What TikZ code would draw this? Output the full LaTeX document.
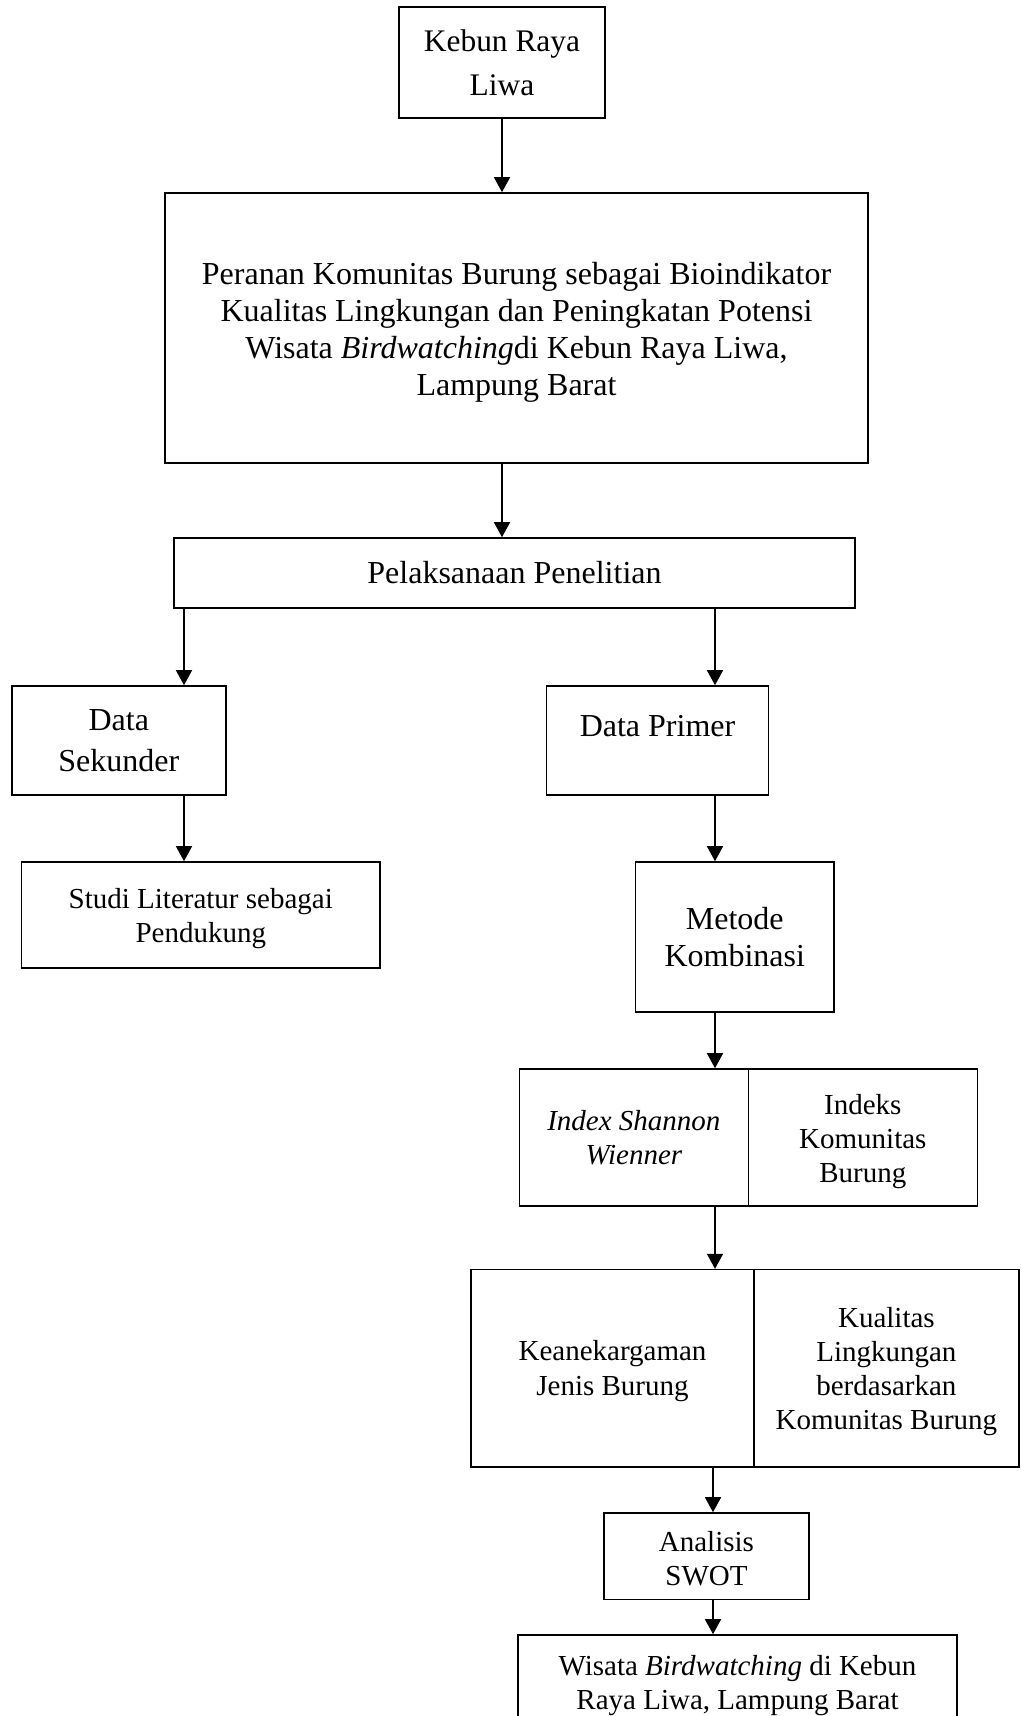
\documentclass[tikz,border=0pt]{standalone}
\usepackage{fontspec}
\setmainfont{Liberation Serif}
\usetikzlibrary{arrows.meta,calc}
\newcommand\topstr[1]{\rule{0pt}{#1pt}}
\tikzset{
  box/.style={draw, line width=1.6pt, inner sep=0pt, align=center},
  arr/.style={line width=1.5pt, -{Triangle[width=16pt,length=15pt]}},
  fA/.style={font=\fontsize{32}{37}\selectfont},
  fB/.style={font=\fontsize{29}{34}\selectfont},
}
\begin{document}
\begin{tikzpicture}[x=1pt,y=-1pt]
\useasboundingbox (0,0) rectangle (1020,1716);
\clip (0,0) rectangle (1020,1716);
\fill[white] (0,0) rectangle (1020,1716);

\node[box, font=\fontsize{31.4}{44}\selectfont, minimum width=206pt, minimum height=111pt] (kebun) at (502,62.5) {Kebun Raya\\Liwa};
\node[box, font=\fontsize{32}{37.2}\selectfont, minimum width=703pt, minimum height=270pt] (peranan) at (516.5,328)
  {\topstr{30.7}Peranan Komunitas Burung sebagai Bioindikator\\Kualitas Lingkungan dan Peningkatan Potensi\\Wisata \textit{Birdwatching}di Kebun Raya Liwa,\\Lampung Barat};
\node[box, fA, minimum width=681pt, minimum height=70pt] (pel) at (514.5,573) {Pelaksanaan Penelitian};

\node[box, font=\fontsize{32}{41.5}\selectfont, minimum width=214pt, minimum height=109pt] (dsek) at (118.75,740.5) {Data\\Sekunder};
\node[box, minimum width=222pt, minimum height=109pt] (dprim) at (657.5,740.5) {};
\node[fA, inner sep=0pt] (dprimtxt) at (657.5,725.6) {Data Primer};

\node[box, fB, minimum width=358.5pt, minimum height=106pt] (studi) at (200.75,915) {\topstr{26.4}Studi Literatur sebagai\\Pendukung};
\node[box, font=\fontsize{32}{37.5}\selectfont, minimum width=198.4pt, minimum height=150pt] (metode) at (734.8,937) {Metode\\Kombinasi};

\node[box, fB, minimum width=229pt, minimum height=137pt] (idx) at (633.9,1137.5) {\textit{Index Shannon}\\\textit{Wienner}};
\node[box, fB, minimum width=228.9pt, minimum height=137pt] (ikb) at (862.85,1137.5) {\topstr{27.8}Indeks\\Komunitas\\Burung};

\node[box, font=\fontsize{29}{35}\selectfont, minimum width=283pt, minimum height=197.4pt] (kean) at (612.5,1368.3) {\topstr{26.4}Keanekargaman\\Jenis Burung};
\node[box, fB, minimum width=264.8pt, minimum height=197.4pt] (kual) at (886.4,1368.3) {\topstr{27.4}Kualitas\\Lingkungan\\berdasarkan\\Komunitas Burung};

\node[box, fB, minimum width=204.9pt, minimum height=86.3pt] (swot) at (706.45,1556.15) {\topstr{24.2}Analisis\\SWOT};
\node[box, fB, minimum width=439pt, minimum height=100.8pt] (wis) at (737.5,1685.4) {Wisata \textit{Birdwatching} di Kebun\\Raya Liwa, Lampung Barat};

\coordinate (L) at (184,0);
\coordinate (R) at (715,0);
\coordinate (R2) at (713,0);

\draw[arr] (kebun.south) -- (kebun.south |- peranan.north);
\draw[arr] (kebun.south |- peranan.south) -- (kebun.south |- pel.north);
\draw[arr] (L |- pel.south) -- (L |- dsek.north);
\draw[arr] (R |- pel.south) -- (R |- dprim.north);
\draw[arr] (L |- dsek.south) -- (L |- studi.north);
\draw[arr] (R |- dprim.south) -- (R |- metode.north);
\draw[arr] (R |- metode.south) -- (R |- idx.north);
\draw[arr] (R |- idx.south) -- (R |- kean.north);
\draw[arr] (R2 |- kean.south) -- (R2 |- swot.north);
\draw[arr] (R2 |- swot.south) -- (R2 |- wis.north);
\end{tikzpicture}
\end{document}
